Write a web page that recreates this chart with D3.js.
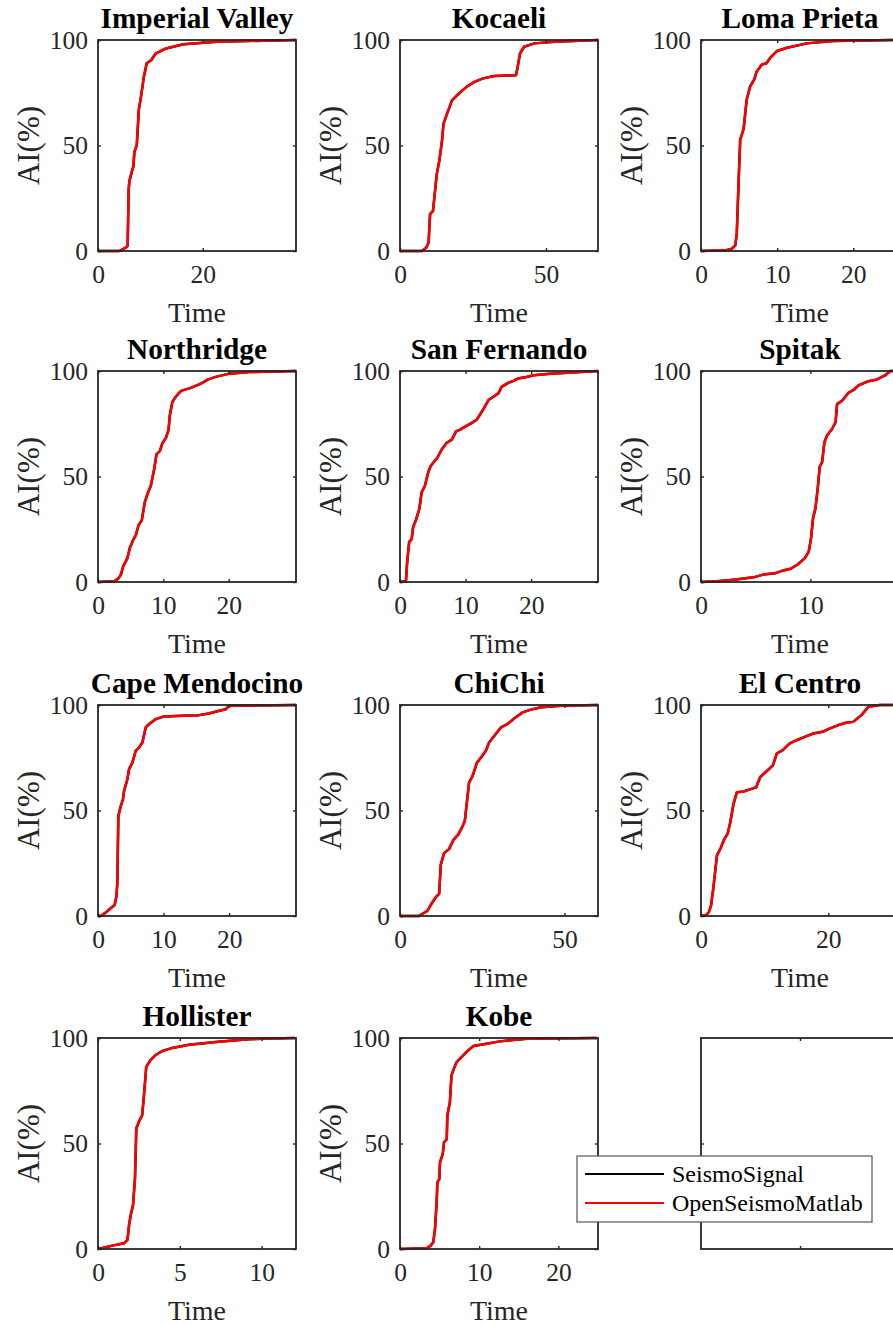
<!DOCTYPE html>
<html>
<head>
<meta charset="utf-8">
<script src="https://cdn.jsdelivr.net/npm/d3@7"></script>
<style>
  html, body { margin: 0; padding: 0; background: #fff; }
  svg { display: block; }
  text { font-family: "Liberation Serif", "Times New Roman", serif; }
</style>
</head>
<body>
<script>
// Arias intensity build-up (% of total) versus time for eleven records.
// Each record: [time (s), AI (%)] samples.
const imperialValley = [[0,0],[4.05,0],[5.3,1.6],[5.66,2.4],[5.85,28.6],[5.98,33],[6.5,38],[6.75,40],[6.95,47],[7.4,50],[7.8,67],[8.2,73],[8.75,82.5],[9.3,89],[10.2,90.5],[11,93.6],[13,96],[16.3,98],[22.7,99.2],[37.8,100]];
const kocaeli = [[0,0],[7.5,0],[9,1.6],[9.8,4],[10.3,17.5],[11.3,19],[12.6,36.5],[13.5,43],[14.4,52.4],[14.9,60.3],[16.1,65],[17.8,71.4],[19.5,73.8],[21.3,76],[23,78],[25.3,80],[28.2,81.7],[32.2,82.9],[39.7,83.3],[40.2,86.5],[41.1,93.6],[42.5,96.8],[46,98.4],[52.9,99.2],[67.8,100]];
const lomaPrieta = [[0,0],[3.2,0.3],[4.06,1.1],[4.5,2.7],[4.7,8.3],[4.93,32],[5.15,52.7],[5.6,58],[6.0,71.7],[6.46,78],[7.0,81.3],[7.3,85],[8,88.4],[8.6,89],[9.1,91.6],[10,94.8],[11.3,96.3],[13.9,98.4],[17.4,99.5],[26,100]];
const northridge = [[0,0],[2.45,0.3],[3.1,1.6],[3.5,3.4],[3.84,7.3],[4.5,11.3],[4.86,16],[5.37,19.8],[5.8,22.2],[6.2,26.9],[6.7,29.2],[7.16,37.8],[7.57,41.7],[8.08,45.6],[8.6,53.4],[8.95,60.5],[9.46,62],[9.87,65.9],[10.4,68.3],[10.8,72.2],[11.0,79.2],[11.4,85.5],[11.9,87.8],[12.7,90.6],[14.2,92],[15.75,94],[16.8,95.9],[18,97.2],[20.1,98.75],[23.2,99.5],[30.3,100]];
const sanFernando = [[0,0],[0.9,0.3],[1.1,9.7],[1.4,19],[1.78,20.3],[2.0,26],[2.5,30],[2.95,34.7],[3.3,42.5],[3.8,45.6],[4.3,51.9],[4.68,55],[5.1,56.6],[5.7,58.9],[6.36,62.8],[7.1,65.9],[7.9,67.5],[8.55,71.4],[9.16,72.2],[10,73.75],[10.9,75.3],[11.7,76.9],[12.5,80.8],[13.5,86.25],[14.25,87.8],[15,89.4],[15.5,92.5],[16.5,94.4],[17.3,95.3],[18,96.4],[19.3,97.2],[20.4,98],[22.9,98.75],[30.2,100]];
const spitak = [[0,0],[1.46,0.3],[3,1.1],[4.8,2.2],[5.7,3.5],[6.8,4.2],[7.4,5.3],[8.2,6.3],[8.8,8.2],[9.5,11.3],[9.85,14.4],[10.06,20.7],[10.24,30.1],[10.46,34.9],[10.67,44.3],[10.85,54.5],[11.07,56.8],[11.28,66.2],[11.52,69.4],[11.98,72.5],[12.3,75.7],[12.44,84.3],[12.9,85.9],[13.5,89.8],[13.96,91],[14.4,93.2],[15.2,95],[16.1,96],[16.86,98],[17.3,100],[18.1,100]];
const capeMendocino = [[0,0],[0.4,0],[1.17,1.6],[1.93,3.65],[2.54,5.2],[2.8,9.2],[2.95,15.6],[3.1,47.3],[3.46,52],[3.8,55.2],[3.97,59.2],[4.48,64.8],[4.73,69.5],[5.24,72.7],[5.75,78.3],[6.26,79.8],[6.77,82.2],[7.28,89.4],[7.8,91],[8.8,93.3],[10.1,94.6],[12.9,94.9],[15.4,95.2],[16.9,96],[18.5,97.3],[19.5,98],[20,99.7],[30.2,100]];
const chiChi = [[0,0],[5.8,0],[7.1,1.3],[8.3,2.4],[9.35,5.2],[10.9,8.9],[11.9,10.5],[12.4,24.3],[13.4,29.8],[14.9,31.7],[16.3,36.2],[17.7,38.6],[19,42.5],[19.7,44.9],[20.2,52],[21,63.2],[22.05,66.3],[23.4,72.7],[24.6,75],[26.1,78.3],[27.1,82.2],[28.7,85.4],[30.7,89.4],[32.7,91],[34.8,93.7],[37.3,96.5],[39.8,97.8],[42.9,98.9],[49,99.7],[60.2,100]];
const elCentro = [[0,0],[0.68,0.3],[1.2,1.6],[1.57,4.8],[1.98,14.3],[2.5,28.6],[3.13,32.5],[3.66,36.5],[4.18,38.9],[4.6,44.4],[5.1,53],[5.64,58.7],[6.68,59],[7.7,60],[8.67,61],[9.3,65.9],[10.1,68],[11.3,71.4],[11.9,77],[12.85,78.6],[13.9,81.7],[15,83.3],[16.3,84.9],[17.65,86.5],[19.1,87.3],[20.26,88.9],[21.6,90.5],[22.9,91.7],[23.9,92],[25.2,95.2],[26.3,99.2],[28.1,100],[31.1,100]];
const hollister = [[0,0],[0.88,1.6],[1.59,2.7],[1.8,4.3],[1.9,11.4],[2.0,16.1],[2.14,20.8],[2.26,33.4],[2.34,57.1],[2.5,60.3],[2.7,63.4],[2.81,72.9],[2.95,86.3],[3.2,89.4],[3.5,91.8],[3.9,93.7],[4.54,95.3],[5.56,96.8],[7.2,98.1],[9.2,99.4],[12,100]];
const kobe = [[0,0],[3.37,0.3],[3.87,1.6],[4.2,3.2],[4.42,9.5],[4.63,22.2],[4.72,31.6],[4.97,33.2],[5.05,41.1],[5.4,45.1],[5.56,50.6],[5.9,51.9],[5.98,63.3],[6.3,69.6],[6.5,82.3],[6.8,85.4],[7.16,88.6],[7.8,91],[8.4,93.4],[9.26,96.2],[10.95,97.3],[12.6,98.4],[16,99.7],[24.8,100]];

const titles = ["Imperial Valley","Kocaeli","Loma Prieta","Northridge","San Fernando","Spitak","Cape Mendocino","ChiChi","El Centro","Hollister","Kobe"];
// OpenSeismoMatlab results; SeismoSignal results coincide with them.
const openSeismoMatlab = [imperialValley,kocaeli,lomaPrieta,northridge,sanFernando,spitak,capeMendocino,chiChi,elCentro,hollister,kobe];
const seismoSignal = openSeismoMatlab;
const timeLimits = [37.8,67.8,26,30.3,30.2,18.1,30.2,60.2,31.1,12.1,25];
const timeTicks = [[0,20],[0,50],[0,10,20],[0,10,20],[0,10,20],[0,10],[0,10,20],[0,50],[0,20],[0,5,10],[0,10,20]];
const aiTicks = [0,50,100];
const legendLabels = ["SeismoSignal","OpenSeismoMatlab"];
const seriesColors = ["#000000","#ff0000"];

const W = 893, H = 1326;
const colLeft = [98, 400, 701];
const rowTop = [40, 371, 705, 1038];
const aw = 198, ah = 211;
const axisColor = "#262626";
const tickLen = 3;
const serif = '"Liberation Serif", "Times New Roman", serif';

const svg = d3.select("body").append("svg")
  .attr("width", W).attr("height", H)
  .attr("viewBox", `0 0 ${W} ${H}`);

function frame(g, x, y, xticks, yticks) {
  // inward ticks on all four sides, MATLAB box style
  const xa = d3.axisBottom(x).tickValues(xticks).tickSizeInner(-tickLen).tickSizeOuter(0).tickPadding(14);
  const ya = d3.axisLeft(y).tickValues(yticks).tickSizeInner(-tickLen).tickSizeOuter(0).tickPadding(10);
  const xt = d3.axisTop(x).tickValues(xticks).tickSizeInner(-tickLen).tickSizeOuter(0).tickFormat("");
  const yr = d3.axisRight(y).tickValues(yticks).tickSizeInner(-tickLen).tickSizeOuter(0).tickFormat("");
  const gx = g.append("g").attr("transform", `translate(0,${ah})`).call(xa);
  const gy = g.append("g").call(ya);
  g.append("g").call(xt);
  g.append("g").attr("transform", `translate(${aw},0)`).call(yr);
  g.selectAll("g").attr("font-family", serif);
  g.selectAll(".domain").remove();
  g.selectAll(".tick line").attr("stroke", axisColor).attr("stroke-width", 1.4);
  g.selectAll(".tick text").attr("fill", axisColor).style("font-size", "25.5px")
    .style("font-family", serif);
  g.append("rect").attr("x", 0).attr("y", 0).attr("width", aw).attr("height", ah)
    .attr("fill", "none").attr("stroke", axisColor).attr("stroke-width", 1.8);
  return { gx, gy };
}

openSeismoMatlab.forEach((rec, i) => {
  const col = i % 3, row = Math.floor(i / 3);
  const g = svg.append("g").attr("transform", `translate(${colLeft[col]},${rowTop[row]})`);
  const x = d3.scaleLinear().domain([0, timeLimits[i]]).range([0, aw]);
  const y = d3.scaleLinear().domain([0, 100]).range([ah, 0]);

  const clipId = "clip" + i;
  g.append("clipPath").attr("id", clipId).append("rect")
    .attr("x", 0).attr("y", -2).attr("width", aw).attr("height", ah + 4);

  const line = d3.line().x(d => x(d[0])).y(d => y(d[1]));
  const series = [seismoSignal[i], openSeismoMatlab[i]];
  series.forEach((s, k) => {
    g.append("path").datum(s)
      .attr("clip-path", `url(#${clipId})`)
      .attr("d", line)
      .attr("fill", "none")
      .attr("stroke", seriesColors[k])
      .attr("stroke-width", 2.5)
      .attr("stroke-linejoin", "round");
  });

  frame(g, x, y, timeTicks[i], aiTicks);

  g.append("text").attr("x", aw / 2).attr("y", -12)
    .attr("text-anchor", "middle").attr("fill", "#000")
    .style("font-size", "29.3px").style("font-weight", "bold")
    .text(titles[i]);
  g.append("text").attr("x", aw / 2).attr("y", ah + 71)
    .attr("text-anchor", "middle").attr("fill", axisColor)
    .style("font-size", "28px").text("Time");
  g.append("text")
    .attr("transform", `translate(-59,${ah / 2}) rotate(-90)`)
    .attr("text-anchor", "middle").attr("fill", axisColor)
    .style("font-size", "31px").text("AI(%)");
});

// Twelfth panel: empty frame that hosts the legend
{
  const g = svg.append("g").attr("transform", `translate(${colLeft[2]},${rowTop[3]})`);
  const x = d3.scaleLinear().domain([0, 1]).range([0, aw]);
  const y = d3.scaleLinear().domain([0, 1]).range([ah, 0]);
  const { gx, gy } = frame(g, x, y, [0.5], [0.5]);
  gx.selectAll("text").remove();
  gy.selectAll("text").remove();
}

// Legend
{
  const lg = svg.append("g").attr("transform", "translate(577,1156)");
  lg.append("rect").attr("x", 0).attr("y", 0).attr("width", 295).attr("height", 66)
    .attr("fill", "#fff").attr("stroke", "#555").attr("stroke-width", 1.2);
  legendLabels.forEach((lab, k) => {
    const yy = 18 + k * 29;
    lg.append("line").attr("x1", 8).attr("x2", 87).attr("y1", yy).attr("y2", yy)
      .attr("stroke", seriesColors[k]).attr("stroke-width", 2);
    lg.append("text").attr("x", 95).attr("y", yy + 8)
      .attr("fill", "#000").style("font-size", "24px").text(lab);
  });
}
</script>
</body>
</html>
